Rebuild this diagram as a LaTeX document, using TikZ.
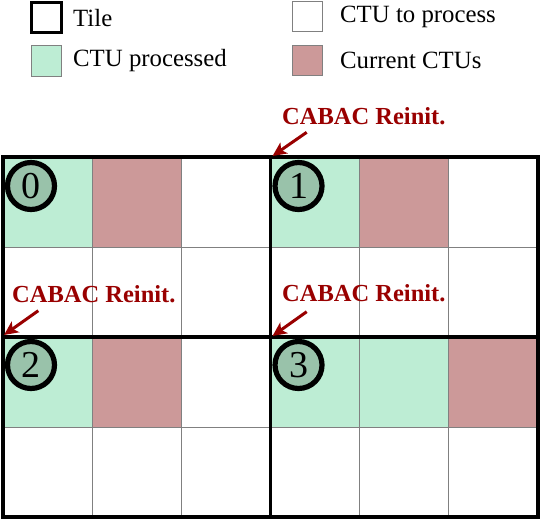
\documentclass[tikz,border=0pt]{standalone}
\usepackage{fontspec}
\setmainfont{Liberation Serif}
\usetikzlibrary{arrows.meta,calc}
\definecolor{donec}{HTML}{BDEDD4}
\definecolor{curc}{HTML}{CC9999}
\definecolor{discc}{HTML}{99C2AA}
\definecolor{labc}{HTML}{990000}
\definecolor{gridc}{HTML}{808080}
\tikzset{
  cell/.style={rectangle, draw=gridc, line width=0.9pt, minimum width=89.17pt, minimum height=90pt, inner sep=0pt, outer sep=0pt},
  tilebox/.style={draw=black, line width=3.6pt},
  disc/.style={circle, draw=black, fill=discc, line width=5.2pt, minimum size=47pt, inner sep=0pt, font=\fontsize{38}{40}\selectfont},
  reinit/.style={font=\fontsize{24.5}{28}\selectfont\bfseries, text=labc, inner sep=0pt, anchor=base west},
  reinarrow/.style={draw=labc, line width=3pt, -{Stealth[length=14pt, width=13pt, inset=3.5pt]}},
  legtext/.style={font=\fontsize{24.8}{28}\selectfont, inner sep=0pt, anchor=base west},
  legbox/.style={rectangle, minimum width=30pt, minimum height=30pt, inner sep=0pt, outer sep=0pt}
}
\begin{document}
\begin{tikzpicture}[x=1pt,y=-1pt]
\useasboundingbox (0,0) rectangle (540,519);
% legend
\node[legbox, draw=black, line width=3pt] (lgtile) at (46,17.5) {};
\node[legtext] (lttile) at (73,26.5) {Tile};
\node[legbox, draw=gridc, line width=1pt] (lgtodo) at (307,17) {};
\node[legtext] (lttodo) at (340,22.5) {CTU to process};
\node[legbox, draw=gridc, line width=1pt, fill=donec] (lgdone) at (46,61) {};
\node[legtext] (ltdone) at (73,66.5) {CTU processed};
\node[legbox, draw=gridc, line width=1pt, fill=curc] (lgcur) at (307,60.5) {};
\node[legtext] (ltcur) at (340,68) {Current CTUs};
% cells
\foreach \r/\c/\col in {
  0/0/donec, 0/1/curc, 0/2/white, 0/3/donec, 0/4/curc, 0/5/white,
  1/0/white, 1/1/white, 1/2/white, 1/3/white, 1/4/white, 1/5/white,
  2/0/donec, 2/1/curc, 2/2/white, 2/3/donec, 2/4/donec, 2/5/curc,
  3/0/white, 3/1/white, 3/2/white, 3/3/white, 3/4/white, 3/5/white} {
  \node[cell, fill=\col] (c\r\c) at ({3+89.17*(\c+0.5)}, {157+90*(\r+0.5)}) {};
}
% tiles
\draw[tilebox] (c00.north west) rectangle (c12.south east);
\draw[tilebox] (c03.north west) rectangle (c15.south east);
\draw[tilebox] (c20.north west) rectangle (c32.south east);
\draw[tilebox] (c23.north west) rectangle (c35.south east);
% tile numbers
\node[disc] (t0) at ($(c00.north west)+(28,29)$) {0};
\node[disc] (t1) at ($(c03.north west)+(28,29)$) {1};
\node[disc] (t2) at ($(c20.north west)+(28,28)$) {2};
\node[disc] (t3) at ($(c23.north west)+(28,28)$) {3};
% CABAC reinit labels
\node[reinit] (r1) at (282,124.3) {CABAC Reinit.};
\node[reinit] (r2) at (12,302.3) {CABAC Reinit.};
\node[reinit] (r3) at (282,301.7) {CABAC Reinit.};
\coordinate (a1) at ($(c03.north west)+(2,-1)$);
\coordinate (a2) at ($(c20.north west)+(1,-2)$);
\coordinate (a3) at ($(c23.north west)+(2,-1)$);
\draw[reinarrow] ($(r1.base west)+(24.7,8)$) -- (a1);
\draw[reinarrow] ($(r2.base west)+(26.3,8.4)$) -- (a2);
\draw[reinarrow] ($(r3.base west)+(24.7,10)$) -- (a3);
\end{tikzpicture}
\end{document}
